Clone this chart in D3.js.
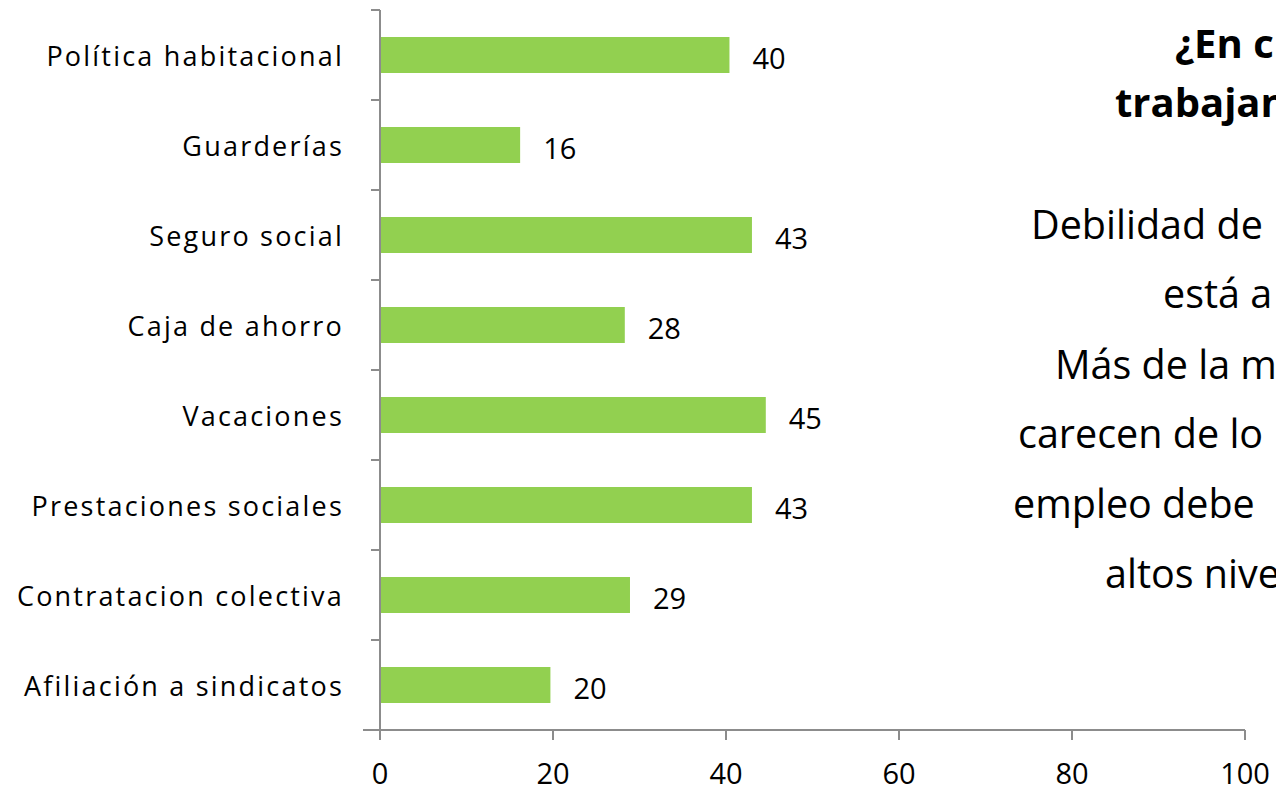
<!DOCTYPE html>
<html><head><meta charset="utf-8">
<script src="https://cdn.jsdelivr.net/npm/d3@7/dist/d3.min.js"></script>
<style>body{margin:0;background:#fff;overflow:hidden}svg{display:block}</style>
</head><body><svg id="c" width="1276" height="790"></svg>
<script>
const categories = ["Política habitacional","Guarderías","Seguro social","Caja de ahorro ","Vacaciones","Prestaciones sociales","Contratacion colectiva","Afiliación a sindicatos"];
const values = [40.4, 16.2, 43, 28.3, 44.6, 43, 28.9, 19.7];
const valueLabels = ["40","16","43","28","45","43","29","20"];
const xTicks = [0,20,40,60,80,100];
const titleLines = ["¿En c", "trabajan"];
const bodyLines = ["Debilidad de", "está a", "Más de la m", "carecen de lo", "empleo debe", "altos nive"];

const svg = d3.select("#c");
const font = "'Open Sans', 'Noto Sans', sans-serif";
const x = d3.scaleLinear().domain([0,100]).range([380,1245]);
const y = d3.scaleBand().domain(categories).range([10,730]).paddingInner(0.6).paddingOuter(0.3);
const step = y.step();
const axisColor = "#8c8c8c";

// bars
svg.selectAll("rect.bar").data(categories).join("rect")
  .attr("x", x(0)).attr("y", d=>y(d))
  .attr("width", (d,i)=>x(values[i])-x(0)).attr("height", y.bandwidth())
  .attr("fill", "#92D050");

// y axis line and category ticks
svg.append("line").attr("x1",x(0)).attr("x2",x(0)).attr("y1",10).attr("y2",730)
  .attr("stroke",axisColor).attr("stroke-width",2);
const bounds = d3.range(categories.length+1).map(i=>10+i*step);
svg.selectAll("line.yt").data(bounds).join("line")
  .attr("x1",371).attr("x2",x(0)).attr("y1",d=>d).attr("y2",d=>d)
  .attr("stroke",axisColor).attr("stroke-width",2);

// x axis
svg.append("line").attr("x1",363).attr("x2",x(100)).attr("y1",730).attr("y2",730)
  .attr("stroke",axisColor).attr("stroke-width",2);
svg.selectAll("line.xt").data(xTicks).join("line")
  .attr("x1",d=>x(d)).attr("x2",d=>x(d)).attr("y1",730).attr("y2",740)
  .attr("stroke",axisColor).attr("stroke-width",2);
svg.selectAll("text.xl").data(xTicks).join("text")
  .attr("x",d=>x(d)).attr("y",784).attr("text-anchor","middle")
  .attr("font-family",font).attr("font-size",29).attr("fill","#000").text(d=>d);

// category labels
svg.selectAll("text.cat").data(categories).join("text")
  .attr("x",344).attr("y",d=>y(d)+y.bandwidth()/2+11).attr("text-anchor","end")
  .attr("font-family",font).attr("font-size",27).attr("letter-spacing",2.2).attr("fill","#000").text(d=>d);

// value labels
svg.selectAll("text.val").data(categories).join("text")
  .attr("x",(d,i)=>x(values[i])+23).attr("y",d=>y(d)+y.bandwidth()/2+14)
  .attr("font-family",font).attr("font-size",29).attr("fill","#000").text((d,i)=>valueLabels[i]);

// right side text
const tX = [1175, 1115], tY = [58, 117];
svg.selectAll("text.title").data(titleLines).join("text")
  .attr("x",(d,i)=>tX[i]).attr("y",(d,i)=>tY[i])
  .attr("font-family",font).attr("font-size",40).attr("font-weight","bold").attr("fill","#000").text(d=>d);
const bX = [1031,1163,1055,1018,1013,1105], bY = [239,308,379,448,518,588];
svg.selectAll("text.body").data(bodyLines).join("text")
  .attr("x",(d,i)=>bX[i]).attr("y",(d,i)=>bY[i])
  .attr("font-family",font).attr("font-size",39.5).attr("fill","#000").text(d=>d);
</script></body></html>
